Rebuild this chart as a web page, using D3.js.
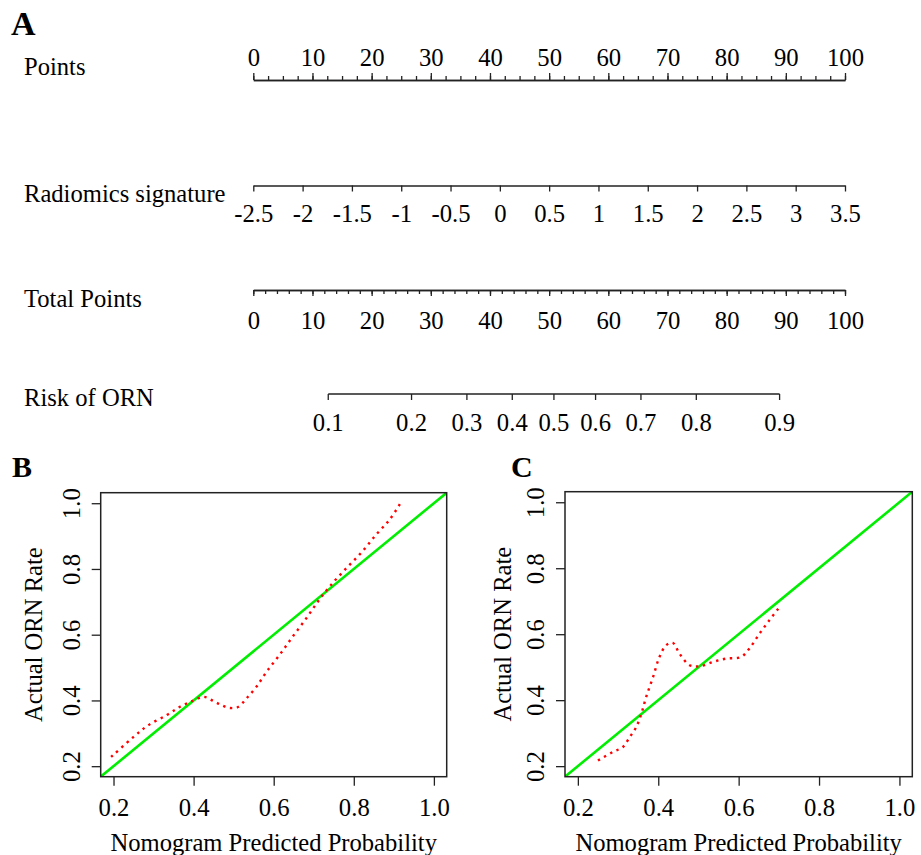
<!DOCTYPE html>
<html>
<head>
<meta charset="utf-8">
<script src="https://cdn.jsdelivr.net/npm/d3@7"></script>
<style>
  html, body { margin: 0; padding: 0; background: #fff; }
  svg text { font-family: 'Liberation Serif', 'Times New Roman', 'DejaVu Serif', serif !important; }
</style>
</head>
<body>
<svg id="chart" width="921" height="855"></svg>
<script>
// ---------------- Data ----------------
// Nomogram rows
const rowLabels = ["Points", "Radiomics signature", "Total Points", "Risk of ORN"];
const pointsTicks = [0, 10, 20, 30, 40, 50, 60, 70, 80, 90, 100];
const pointsMinorStep = 2.5;
const radiomicsTicks = [-2.5, -2, -1.5, -1, -0.5, 0, 0.5, 1, 1.5, 2, 2.5, 3, 3.5];
const radiomicsDomain = [-2.5, 3.5];
const totalPointsTicks = [0, 10, 20, 30, 40, 50, 60, 70, 80, 90, 100];
const totalPointsMinorStep = 2;
const riskTicks = [0.1, 0.2, 0.3, 0.4, 0.5, 0.6, 0.7, 0.8, 0.9];
// logistic model linking total points to risk: logit(p) = intercept + slope * totalPoints
const riskIntercept = -2.927;
const riskSlope = 0.05761;

// Calibration curves
const calTicks = [0.2, 0.4, 0.6, 0.8, 1.0];
const calLimits = [0.168, 1.032];
const idealLine = [0.168, 1.032];
const calBx = [0.194, 0.248, 0.286, 0.332, 0.365, 0.398, 0.425, 0.448, 0.469, 0.490, 0.511, 0.532, 0.557, 0.582, 0.615, 0.648, 0.682, 0.711, 0.740, 0.778, 0.819, 0.857, 0.890, 0.915];
const calBy = [0.228, 0.287, 0.324, 0.355, 0.380, 0.399, 0.411, 0.399, 0.386, 0.377, 0.380, 0.406, 0.442, 0.487, 0.539, 0.595, 0.651, 0.702, 0.747, 0.798, 0.850, 0.906, 0.951, 0.997];
const calCx = [0.250, 0.287, 0.312, 0.329, 0.345, 0.358, 0.370, 0.387, 0.403, 0.420, 0.436, 0.453, 0.478, 0.503, 0.536, 0.569, 0.606, 0.627, 0.652, 0.677, 0.702];
const calCy = [0.217, 0.243, 0.258, 0.288, 0.318, 0.359, 0.410, 0.470, 0.531, 0.567, 0.574, 0.541, 0.506, 0.503, 0.516, 0.526, 0.531, 0.557, 0.602, 0.643, 0.683];

// ---------------- Drawing ----------------
const svg = d3.select("#chart");
const INK = "#222";
const TXT = "#000";
const tickFont = 24.7;
const labelFont = 24.6;

// Panel letters
svg.append("text").attr("x", 11).attr("y", 35).attr("font-size", 34).attr("font-weight", "bold").attr("fill", TXT).text("A");
svg.append("text").attr("x", 12).attr("y", 477).attr("font-size", 30).attr("font-weight", "bold").attr("fill", TXT).text("B");
svg.append("text").attr("x", 511).attr("y", 477).attr("font-size", 30).attr("font-weight", "bold").attr("fill", TXT).text("C");

// Nomogram
const xPts = d3.scaleLinear().domain([0, 100]).range([253.3, 845]);
const xRad = d3.scaleLinear().domain(radiomicsDomain).range([253.3, 845]);
const logit = p => Math.log(p / (1 - p));
const riskToX = p => xPts((logit(p) - riskIntercept) / riskSlope);

const rowY = { points: 80, rad: 185.5, total: 290, risk: 394 };
const rowLabelBase = [75, 202, 307, 406];
rowLabels.forEach((t, i) => {
  svg.append("text").attr("x", 24).attr("y", rowLabelBase[i]).attr("font-size", labelFont).attr("fill", TXT).text(t);
});

function styleAxis(g) {
  g.selectAll("path.domain").attr("stroke", INK).attr("stroke-width", 1.5);
  g.selectAll(".tick line").attr("stroke", INK).attr("stroke-width", 1.3);
  g.selectAll(".tick text").attr("fill", TXT).attr("font-size", tickFont);
}

// Points axis (ticks up, labels above)
const ptsMinor = d3.range(0, 100 + 1e-9, pointsMinorStep);
const gPm = svg.append("g").attr("transform", `translate(0,${rowY.points})`)
  .call(d3.axisTop(xPts).tickValues(ptsMinor).tickSize(4).tickSizeOuter(0).tickFormat(""));
styleAxis(gPm);
const gP = svg.append("g").attr("transform", `translate(0,${rowY.points})`)
  .call(d3.axisTop(xPts).tickValues(pointsTicks).tickSize(7).tickSizeOuter(0).tickFormat(d3.format("d")));
styleAxis(gP);
gP.selectAll(".tick text").attr("y", -23).attr("dy", "0.35em");

// Radiomics axis (ticks down)
const gR = svg.append("g").attr("transform", `translate(0,${rowY.rad})`)
  .call(d3.axisBottom(xRad).tickValues(radiomicsTicks).tickSize(6).tickSizeOuter(0).tickFormat(d => String(d)));
styleAxis(gR);
gR.selectAll(".tick text").attr("y", 28).attr("dy", "0.35em");

// Total points axis
const totMinor = d3.range(0, 100 + 1e-9, totalPointsMinorStep);
const gTm = svg.append("g").attr("transform", `translate(0,${rowY.total})`)
  .call(d3.axisBottom(xPts).tickValues(totMinor).tickSize(4).tickSizeOuter(0).tickFormat(""));
styleAxis(gTm);
const gT = svg.append("g").attr("transform", `translate(0,${rowY.total})`)
  .call(d3.axisBottom(xPts).tickValues(totalPointsTicks).tickSize(6).tickSizeOuter(0).tickFormat(d3.format("d")));
styleAxis(gT);
gT.selectAll(".tick text").attr("y", 30).attr("dy", "0.35em");

// Risk axis (nonlinear positions via the logistic model)
const gK = svg.append("g").attr("transform", `translate(0,${rowY.risk})`);
gK.append("line").attr("x1", riskToX(riskTicks[0])).attr("x2", riskToX(riskTicks[riskTicks.length - 1]))
  .attr("stroke", INK).attr("stroke-width", 1.5);
const kt = gK.selectAll("g.tick").data(riskTicks).join("g").attr("class", "tick")
  .attr("transform", d => `translate(${riskToX(d)},0)`);
kt.append("line").attr("y2", 6).attr("stroke", INK).attr("stroke-width", 1.3);
kt.append("text").attr("y", 28).attr("dy", "0.35em").attr("text-anchor", "middle")
  .attr("font-size", tickFont).attr("fill", TXT).text(d => d3.format(".1f")(d));

// Calibration panels
function calPanel(box, xs, ys, yLabelOff, yTitleX) {
  const x = d3.scaleLinear().domain(calLimits).range([box.l, box.r]);
  const y = d3.scaleLinear().domain(calLimits).range([box.b, box.t]);
  const g = svg.append("g");
  const clipId = "clip" + Math.round(box.l);
  g.append("clipPath").attr("id", clipId).append("rect")
    .attr("x", box.l).attr("y", box.t).attr("width", box.r - box.l).attr("height", box.b - box.t);

  // axes
  const gx = g.append("g").attr("transform", `translate(0,${box.b})`)
    .call(d3.axisBottom(x).tickValues(calTicks).tickSize(9).tickSizeOuter(0).tickFormat(d3.format(".1f")));
  gx.selectAll("path.domain").remove();
  gx.selectAll(".tick line").attr("stroke", INK).attr("stroke-width", 1.3);
  gx.selectAll(".tick text").attr("y", 31).attr("dy", "0.35em").attr("font-size", tickFont).attr("fill", TXT);

  const gy = g.append("g").attr("transform", `translate(${box.l},0)`)
    .call(d3.axisLeft(y).tickValues(calTicks).tickSize(9).tickSizeOuter(0).tickFormat(d3.format(".1f")));
  gy.selectAll("path.domain").remove();
  gy.selectAll(".tick line").attr("stroke", INK).attr("stroke-width", 1.3);
  gy.selectAll(".tick text").attr("x", null).attr("y", null).attr("dy", "0.35em")
    .attr("text-anchor", "middle").attr("transform", `translate(${-yLabelOff},0) rotate(-90)`)
    .attr("font-size", tickFont).attr("fill", TXT);

  // ideal line
  g.append("line").attr("clip-path", `url(#${clipId})`)
    .attr("x1", x(idealLine[0])).attr("y1", y(idealLine[0]))
    .attr("x2", x(idealLine[1])).attr("y2", y(idealLine[1]))
    .attr("stroke", "#00ee00").attr("stroke-width", 2.6);

  // calibration curve
  const pts = xs.map((v, i) => [v, ys[i]]);
  g.append("path").attr("clip-path", `url(#${clipId})`)
    .attr("d", d3.line().x(d => x(d[0])).y(d => y(d[1])).curve(d3.curveCatmullRom.alpha(0.5))(pts))
    .attr("fill", "none").attr("stroke", "#ff0000").attr("stroke-width", 2.4)
    .attr("stroke-dasharray", "2.4,4.6");

  // box
  g.append("rect").attr("x", box.l).attr("y", box.t).attr("width", box.r - box.l).attr("height", box.b - box.t)
    .attr("fill", "none").attr("stroke", INK).attr("stroke-width", 1.5);

  // titles
  g.append("text").attr("x", (box.l + box.r) / 2).attr("y", 842).attr("dy", "0.35em")
    .attr("text-anchor", "middle").attr("font-size", labelFont).attr("fill", TXT)
    .text("Nomogram Predicted Probability");
  g.append("text").attr("transform", `translate(${yTitleX},${(box.t + box.b) / 2}) rotate(-90)`)
    .attr("dy", "0.35em").attr("text-anchor", "middle").attr("font-size", labelFont).attr("fill", TXT)
    .text("Actual ORN Rate");
}

calPanel({ l: 100.7, r: 446.7, t: 492.7, b: 776.7 }, calBx, calBy, 29, 33);
calPanel({ l: 565, r: 912.3, t: 491.7, b: 776.7 }, calCx, calCy, 30, 502);
</script>
</body>
</html>
